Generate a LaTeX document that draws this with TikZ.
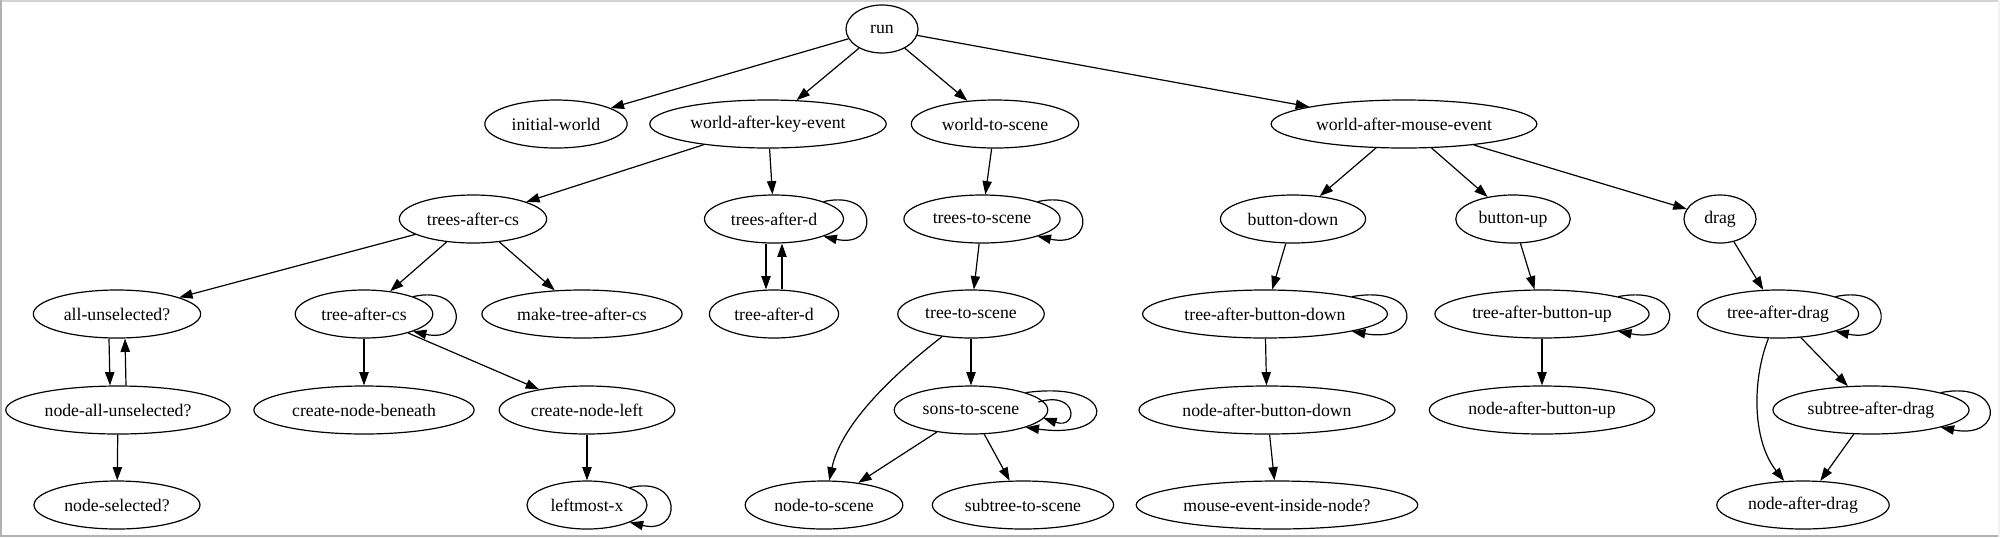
\documentclass[tikz,border=0pt]{standalone}
\usepackage{fontspec}
\setmainfont{Liberation Serif}
\usetikzlibrary{arrows.meta,shapes.geometric}
\tikzset{
  fn/.style={ellipse,draw,line width=0.9pt,minimum width=54pt,minimum height=36pt,inner xsep=4.5pt,inner ysep=0pt,font=\fontsize{13.3pt}{16pt}\selectfont},
  ar/.style={-{Triangle[length=10pt,width=7pt]},line width=0.9pt},
  frm/.style={line width=1.5pt},
}

\begin{document}
\begin{tikzpicture}[x=0.75pt,y=-0.75pt]
  \useasboundingbox (0,0) rectangle (2000,537);
  \draw[frm,gray!35] (0,1) -- (2000,1);
  \draw[frm,gray!60] (1,0) -- (1,537);
  \draw[frm,gray!60] (0,535.5) -- (2000,535.5);
  \draw[frm,gray!10] (1999,0) -- (1999,537);

  \node[fn] (run) at (882,29) {run};

  \node[fn] (initw) at (556,124) {initial-world};
  \node[fn] (wkey) at (768,124) {world-after-key-event};
  \node[fn] (wscene) at (995,124) {world-to-scene};
  \node[fn] (wmouse) at (1404,124) {world-after-mouse-event};

  \node[fn] (tscs) at (473,219) {trees-after-cs};
  \node[fn] (tsd) at (774,219) {trees-after-d};
  \node[fn] (tsscene) at (982,219) {trees-to-scene};
  \node[fn] (bdown) at (1293,219) {button-down};
  \node[fn] (bup) at (1513,219) {button-up};
  \node[fn] (drag) at (1720,219) {drag};

  \node[fn] (allun) at (117,314) {all-unselected?};
  \node[fn] (trcs) at (364,314) {tree-after-cs};
  \node[fn] (mkcs) at (582,314) {make-tree-after-cs};
  \node[fn] (trd) at (774,314) {tree-after-d};
  \node[fn] (trscene) at (971,314) {tree-to-scene};
  \node[fn] (trbd) at (1265,314) {tree-after-button-down};
  \node[fn] (trbu) at (1542,314) {tree-after-button-up};
  \node[fn] (trdrag) at (1778,314) {tree-after-drag};

  \node[fn] (nallun) at (118,410) {node-all-unselected?};
  \node[fn] (cnb) at (364,410) {create-node-beneath};
  \node[fn] (cnl) at (587,410) {create-node-left};
  \node[fn] (sons) at (971,410) {sons-to-scene};
  \node[fn] (nabd) at (1267,410) {node-after-button-down};
  \node[fn] (nabu) at (1542,410) {node-after-button-up};
  \node[fn] (stdrag) at (1871,410) {subtree-after-drag};

  \node[fn] (nsel) at (117,505) {node-selected?};
  \node[fn] (lmx) at (587,505) {leftmost-x};
  \node[fn] (nscene) at (824,505) {node-to-scene};
  \node[fn] (stscene) at (1023,505) {subtree-to-scene};
  \node[fn] (mein) at (1277,505) {mouse-event-inside-node?};
  \node[fn] (nadrag) at (1803,505) {node-after-drag};

  \draw[ar] (run) -- (initw);
  \draw[ar] (run) -- (wkey);
  \draw[ar] (run) -- (wscene);
  \draw[ar] (run) -- (wmouse);
  \draw[ar] (wkey) -- (tscs);
  \draw[ar] (wkey) -- (tsd);
  \draw[ar] (wscene) -- (tsscene);
  \draw[ar] (wmouse) -- (bdown);
  \draw[ar] (wmouse) -- (bup);
  \draw[ar] (wmouse) -- (drag);
  \draw[ar] (tscs) -- (allun);
  \draw[ar] (tscs) -- (trcs);
  \draw[ar] (tscs) -- (mkcs);
  \draw[ar] ([xshift=-6pt]tsd.south) -- ([xshift=-6pt]trd.north);
  \draw[ar] ([xshift=6pt]trd.north) -- ([xshift=6pt]tsd.south);
  \draw[ar] (tsscene) -- (trscene);
  \draw[ar] (bdown) -- (trbd);
  \draw[ar] (bup) -- (trbu);
  \draw[ar] (drag) -- (trdrag);
  \draw[ar] ([xshift=-6pt]allun.south) -- ([xshift=-6pt]nallun.north);
  \draw[ar] ([xshift=6pt]nallun.north) -- ([xshift=6pt]allun.south);
  \draw[ar] (trcs) -- (cnb);
  \draw[ar] (trcs) -- (cnl);
  \draw[ar] (trscene) -- (sons);
  \draw[ar] (trscene) .. controls (880,385) and (840,430) .. (nscene);
  \draw[ar] (trbd) -- (nabd);
  \draw[ar] (trbu) -- (nabu);
  \draw[ar] (trdrag) -- (stdrag);
  \draw[ar] (trdrag) .. controls (1752,380) and (1752,440) .. (nadrag);
  \draw[ar] (nallun) -- (nsel);
  \draw[ar] (cnl) -- (lmx);
  \draw[ar] (sons) -- (nscene);
  \draw[ar] (sons) -- (stscene);
  \draw[ar] (nabd) -- (mein);
  \draw[ar] (stdrag) -- (nadrag);

  \foreach \n in {tsd,tsscene,trcs,trbd,trbu,trdrag,stdrag,lmx}{
    \draw[ar] (\n.north east) .. controls ([shift={(35,-30)}]\n.east) and ([shift={(35,30)}]\n.east) .. (\n.south east);
  }
  \draw[ar] (sons.north east) .. controls ([shift={(70,-30)}]sons.east) and ([shift={(70,30)}]sons.east) .. (sons.south east);
  \draw[ar] ([shift={(-10,-8)}]sons.east) .. controls ([shift={(30,-20)}]sons.east) and ([shift={(30,20)}]sons.east) .. ([shift={(-5,8)}]sons.east);
\end{tikzpicture}
\end{document}
